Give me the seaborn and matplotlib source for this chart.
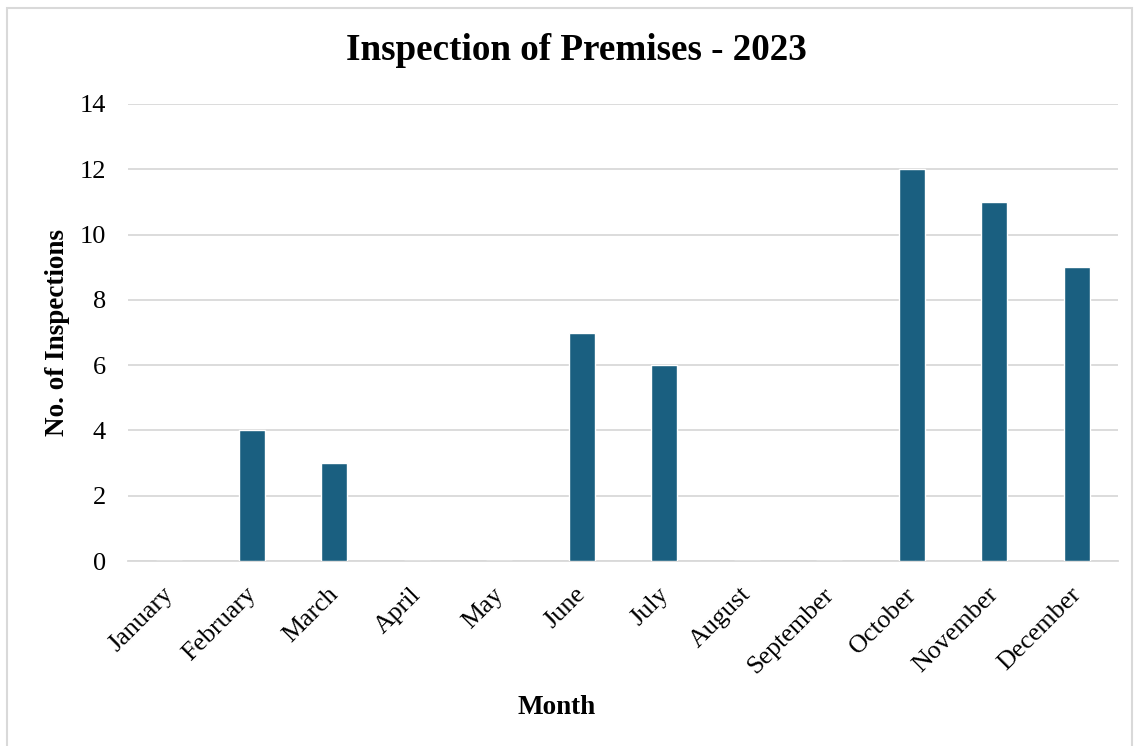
import matplotlib
matplotlib.use("Agg")
import matplotlib.pyplot as plt
import matplotlib.patches as mpatches
import matplotlib.transforms as mtransforms
import seaborn as sns
import pandas as pd

months = ["January", "February", "March", "April", "May", "June", "July",
          "August", "September", "October", "November", "December"]
inspections = [0, 4, 3, 0, 0, 7, 6, 0, 0, 12, 11, 9]
y_ticks = [0, 2, 4, 6, 8, 10, 12, 14]

df = pd.DataFrame({"Month": months, "Inspections": inspections})

sns.set_style("white")
plt.rcParams["font.family"] = ["Liberation Serif", "DejaVu Serif"]
plt.rcParams["text.color"] = "black"
plt.rcParams["xtick.color"] = "black"
plt.rcParams["ytick.color"] = "black"
plt.rcParams["axes.labelcolor"] = "black"

fig = plt.figure(figsize=(11.38, 7.46), dpi=100)
ax = fig.add_axes([128 / 1138, 1 - 561 / 746, (1118 - 128) / 1138, (561 - 104) / 746])

sns.barplot(data=df, x="Month", y="Inspections", color="#1a5f80",
            width=0.32, saturation=1, ax=ax, zorder=3)

ax.set_ylim(0, 14)
ax.set_yticks(y_ticks)
ax.yaxis.grid(True, color="#d9d9d9", linewidth=1.3, zorder=0)
ax.xaxis.grid(False)
for s in ["top", "right", "left"]:
    ax.spines[s].set_visible(False)
ax.spines["bottom"].set_color("#d9d9d9")
ax.spines["bottom"].set_linewidth(1.3)
ax.tick_params(axis="y", length=0, labelsize=19, colors="black", pad=16)
ax.tick_params(axis="x", length=0, labelsize=18.7, colors="black", pad=14)
shift = mtransforms.ScaledTranslation(-7 / 100, -3 / 100, fig.dpi_scale_trans)
for lbl in ax.get_xticklabels():
    lbl.set_rotation(45)
    lbl.set_ha("right")
    lbl.set_rotation_mode("anchor")
    lbl.set_transform(lbl.get_transform() + shift)

ax.set_xlabel("")
ax.set_ylabel("")
fig.text(57 / 1138, 1 - 332 / 746, "No. of Inspections", ha="center", va="center",
         rotation=90, fontsize=19.5, fontweight="bold")
fig.text(557 / 1138, 1 - 708 / 746, "Month", ha="center", va="center",
         fontsize=19.5, fontweight="bold")
fig.text(576 / 1138, 1 - 50 / 746, "Inspection of Premises - 2023", ha="center", va="center",
         fontsize=26.7, fontweight="bold")

fig.patches.append(mpatches.Rectangle((7 / 1138, -0.05), (1132 - 7) / 1138, 1.05 - 8 / 746,
                                      transform=fig.transFigure, fill=False,
                                      edgecolor="#d9d9d9", linewidth=1.5))

fig.savefig("out.png", dpi=100)
